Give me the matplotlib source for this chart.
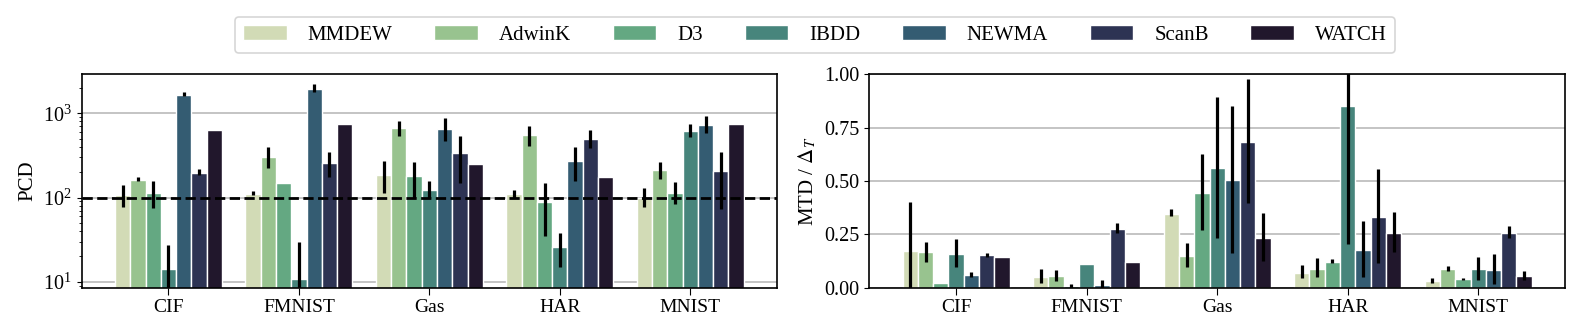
import numpy as np
import matplotlib
matplotlib.use("Agg")
import matplotlib.pyplot as plt

# datasets and detectors
datasets = ["CIF", "FMNIST", "Gas", "HAR", "MNIST"]
algorithms = ["MMDEW", "AdwinK", "D3", "IBDD", "NEWMA", "ScanB", "WATCH"]
colors = ["#d2dbb6", "#98c38f", "#64a882", "#47857c", "#345c72", "#2d3353", "#21172c"]

# PCD (rows: algorithms, cols: datasets)
pcd_mean = [
    [107, 110, 185, 110, 98],
    [161, 302, 663, 548, 212],
    [114, 150, 180, 89, 113],
    [14.3, 10.8, 123, 25.6, 617],
    [1665, 1950, 652, 271, 727],
    [197, 257, 340, 499, 206],
    [631, 746, 250, 174, 742],
]
pcd_low = [
    [78, 107, 112, 100, 78],
    [155, 226, 537, 412, 166],
    [76, 150, 100, 35, 83],
    [1, 1, 100, 14.8, 525],
    [1600, 1800, 468, 157, 578],
    [185, 177, 150, 389, 73],
    [631, 746, 250, 174, 742],
]
pcd_high = [
    [141, 119, 271, 123, 129],
    [174, 395, 817, 708, 263],
    [158, 150, 266, 147, 151],
    [27.3, 30, 155, 37.6, 742],
    [1800, 2230, 871, 395, 929],
    [216, 350, 542, 631, 350],
    [631, 746, 250, 174, 742],
]

# MTD / Delta_T
mtd_mean = [
    [0.172, 0.050, 0.347, 0.070, 0.033],
    [0.166, 0.053, 0.149, 0.088, 0.088],
    [0.021, 0.008, 0.445, 0.120, 0.039],
    [0.156, 0.112, 0.559, 0.850, 0.088],
    [0.061, 0.013, 0.505, 0.177, 0.083],
    [0.153, 0.274, 0.683, 0.331, 0.255],
    [0.142, 0.122, 0.233, 0.255, 0.055],
]
mtd_low = [
    [0.0, 0.023, 0.336, 0.044, 0.023],
    [0.122, 0.033, 0.098, 0.049, 0.080],
    [0.021, 0.0, 0.270, 0.117, 0.036],
    [0.096, 0.112, 0.234, 0.203, 0.036],
    [0.052, 0.0, 0.164, 0.049, 0.017],
    [0.145, 0.255, 0.395, 0.114, 0.231],
    [0.142, 0.122, 0.127, 0.166, 0.036],
]
mtd_high = [
    [0.403, 0.086, 0.369, 0.106, 0.047],
    [0.213, 0.082, 0.208, 0.138, 0.102],
    [0.021, 0.015, 0.627, 0.133, 0.044],
    [0.227, 0.112, 0.895, 1.05, 0.145],
    [0.075, 0.034, 0.853, 0.313, 0.156],
    [0.161, 0.302, 0.977, 0.556, 0.289],
    [0.142, 0.122, 0.349, 0.353, 0.080],
]

plt.rcParams["font.family"] = ["Liberation Serif", "DejaVu Serif"]
plt.rcParams["mathtext.fontset"] = "stix"

fig = plt.figure(figsize=(15.78, 3.3), dpi=100)
ax1 = fig.add_axes([0.0518, 0.1282, 0.4406, 0.6466])
ax2 = fig.add_axes([0.5509, 0.1282, 0.4409, 0.6466])

n = len(algorithms)
group_w = 0.82
bw = group_w / n
x = np.arange(len(datasets))


def draw(ax, mean, low, high):
    handles = []
    for i in range(n):
        pos = x - group_w / 2 + bw * (i + 0.5)
        m = np.array(mean[i])
        lo = np.array(low[i])
        hi = np.array(high[i])
        b = ax.bar(pos, m, width=bw, color=colors[i], edgecolor="white",
                   linewidth=1.0, label=algorithms[i], zorder=2)
        handles.append(b)
        ax.vlines(pos, lo, hi, color="black", linewidth=2.3, zorder=3)
    ax.set_xticks(x)
    ax.set_xticklabels(datasets, fontsize=14)
    ax.set_xlim(-0.665, 4.665)
    ax.set_axisbelow(True)
    ax.grid(axis="y", color="#bfbfbf", linewidth=1.3)
    ax.tick_params(axis="y", labelsize=14.5)
    ax.tick_params(axis="x", length=5)
    for s in ax.spines.values():
        s.set_color("black")
        s.set_linewidth(1.2)
    return handles


handles = draw(ax1, pcd_mean, pcd_low, pcd_high)
ax1.set_yscale("log")
ax1.set_ylim(8.5, 2900)
ax1.axhline(100, color="black", linestyle="--", linewidth=2, zorder=4)
ax1.set_ylabel("PCD", fontsize=15)
ax1.grid(axis="y", which="minor", visible=False)

draw(ax2, mtd_mean, mtd_low, mtd_high)
ax2.set_ylim(0, 1)
ax2.set_yticks([0, 0.25, 0.5, 0.75, 1.0])
ax2.set_yticklabels(["0.00", "0.25", "0.50", "0.75", "1.00"])
ax2.set_ylabel(r"MTD / $\Delta_T$", fontsize=15)

leg = fig.legend(handles, algorithms, loc="upper center", ncol=7,
                 bbox_to_anchor=(0.5165, 0.98), fontsize=15,
                 handlelength=2.1, handletextpad=1.0, columnspacing=2.0,
                 frameon=True, fancybox=True)
leg.get_frame().set_edgecolor("#cccccc")
leg.get_frame().set_linewidth(1.2)

fig.savefig("out.png", dpi=100)
